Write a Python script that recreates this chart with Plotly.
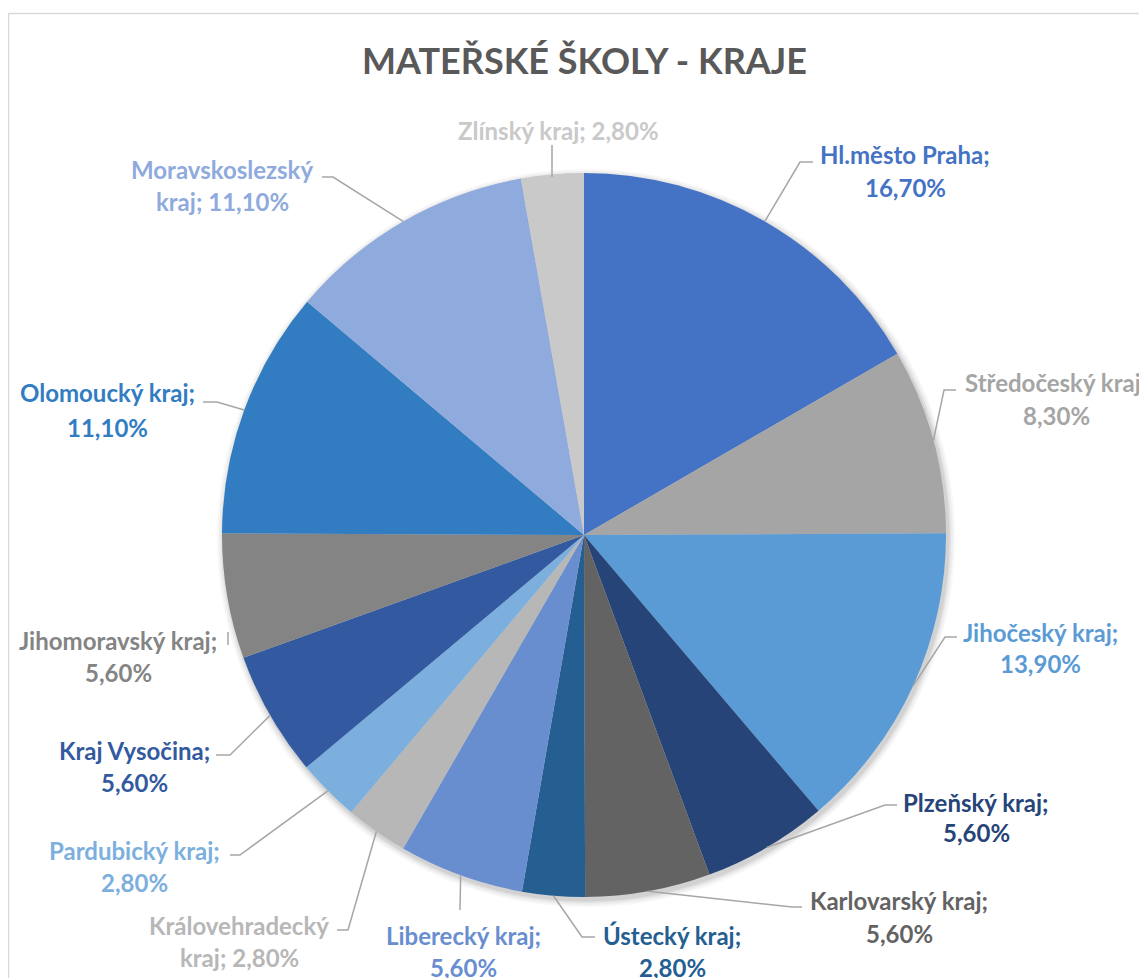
import numpy as np
import plotly.graph_objects as go

# ---- data ----
regions = ["Hl.město Praha", "Středočeský kraj", "Jihočeský kraj", "Plzeňský kraj",
           "Karlovarský kraj", "Ústecký kraj", "Liberecký kraj", "Královehradecký kraj",
           "Pardubický kraj", "Kraj Vysočina", "Jihomoravský kraj", "Olomoucký kraj",
           "Moravskoslezský kraj", "Zlínský kraj"]
shares = [16.7, 8.3, 13.9, 5.6, 5.6, 2.8, 5.6, 2.8, 2.8, 5.6, 5.6, 11.1, 11.1, 2.8]
colors = ["#4472C4", "#A5A5A5", "#5B9BD5", "#264478", "#636363", "#255E91", "#698ED0",
          "#B7B7B7", "#7CAFDD", "#335AA1", "#848484", "#327DC2", "#8FAADC", "#C9C9C9"]
title_text = "MATEŘSKÉ ŠKOLY - KRAJE"

# ---- layout (page pixels; the page body has an 8px margin) ----
OFF = 8
W, H = 1147 - OFF, 978 - OFF
CX, CY, R = 584, 535, 362
FONT = "Lato, 'Open Sans', sans-serif"
LABEL_SIZE = 24
LINE_COLOR = "#A6A6A6"

# label layout: (split style, center x, y line1, y line2, elbow x, elbow y, end x, start override)
label_layout = [
    ("a", 905, 154, 187, 800, 162, 813, None),
    ("a", 1056, 383, 415, 944, 390, 956, None),
    ("a", 1040, 632, 663, 945, 637, 957, None),
    ("a", 976, 802, 832, 885, 805, 897, None),
    ("a", 899, 900, 933, 792, 907, 802, None),
    ("a", 672, 935, 967, 582, 937, 595, None),
    ("a", 463, 935, 967, 460, 910, 460, None),
    ("b", 239, 925, 957, 348, 930, 337, None),
    ("a", 135, 850, 882, 240, 855, 230, None),
    ("a", 134, 750, 782, 230, 755, 216, None),
    ("a", 118, 640, 672, 228, 645, 228, (228, 632)),
    ("a", 107, 393, 427, 217, 402, 203, None),
    ("b", 222, 170, 202, 333, 177, 322, None),
    ("c", 558, 130, None, 552, 145, 552, (552, 177)),
]


def px(x):
    return (x - OFF) / W


def py(y):
    return 1 - (y - OFF) / H


def fmt(v):
    return f"{v:.2f}".replace(".", ",") + "%"


fig = go.Figure()
fig.add_trace(go.Pie(
    labels=regions, values=shares, sort=False, direction="clockwise", rotation=0,
    marker=dict(colors=colors, line=dict(width=0)),
    textinfo="none", hoverinfo="label+percent", showlegend=False,
    domain=dict(x=[px(CX - R), px(CX + R)], y=[py(CY + R), py(CY - R)]),
))

shapes = []
# chart border
shapes.append(dict(type="rect", xref="paper", yref="paper", x0=px(8.5), y0=-0.1, x1=1.1, y1=py(13.5),
                   line=dict(color="#D9D9D9", width=1.5), fillcolor="rgba(0,0,0,0)", layer="below"))
# soft shadow behind pie
for dr, a in [(7, 0.03), (5, 0.04), (3, 0.05), (1.5, 0.06)]:
    shapes.append(dict(type="circle", xref="paper", yref="paper",
                       x0=px(CX - R - dr + 2), x1=px(CX + R + dr + 2),
                       y0=py(CY + R + dr + 3), y1=py(CY - R - dr + 3),
                       line=dict(width=0), fillcolor=f"rgba(0,0,0,{a})", layer="below"))

vals = np.array(shares)
cum = np.cumsum(vals) - vals / 2
mid_ang = cum / vals.sum() * 2 * np.pi

annotations = []
for i, (name, v, col, lay) in enumerate(zip(regions, shares, colors, label_layout)):
    style, lx, y1, y2, ex, ey, endx, start = lay
    if style == "a":
        lines = [(name + ";", y1), (fmt(v), y2)]
    elif style == "b":
        first, rest = name.split(" ", 1)
        lines = [(first, y1), (rest + "; " + fmt(v), y2)]
    else:
        lines = [(name + "; " + fmt(v), y1)]
    for txt, yy in lines:
        annotations.append(dict(text=f"<b>{txt}</b>", x=px(lx), y=py(yy), xref="paper", yref="paper",
                                xanchor="center", yanchor="middle", showarrow=False,
                                font=dict(family=FONT, size=LABEL_SIZE, color=col)))
    if start is None:
        sx = CX + R * np.sin(mid_ang[i])
        sy = CY - R * np.cos(mid_ang[i])
    else:
        sx, sy = start
    path = f"M {px(sx)},{py(sy)} L {px(ex)},{py(ey)} L {px(endx)},{py(ey)}"
    shapes.append(dict(type="path", xref="paper", yref="paper", path=path,
                       line=dict(color=LINE_COLOR, width=1.5)))

annotations.append(dict(text=f"<b>{title_text}</b>", x=px(CX), y=py(60), xref="paper", yref="paper",
                        xanchor="center", yanchor="middle", showarrow=False,
                        font=dict(family=FONT, size=36, color="#595959")))

fig.update_layout(
    width=W, height=H, margin=dict(l=0, r=0, t=0, b=0),
    paper_bgcolor="white", plot_bgcolor="white",
    shapes=shapes, annotations=annotations,
)

fig.write_html("out.html")
